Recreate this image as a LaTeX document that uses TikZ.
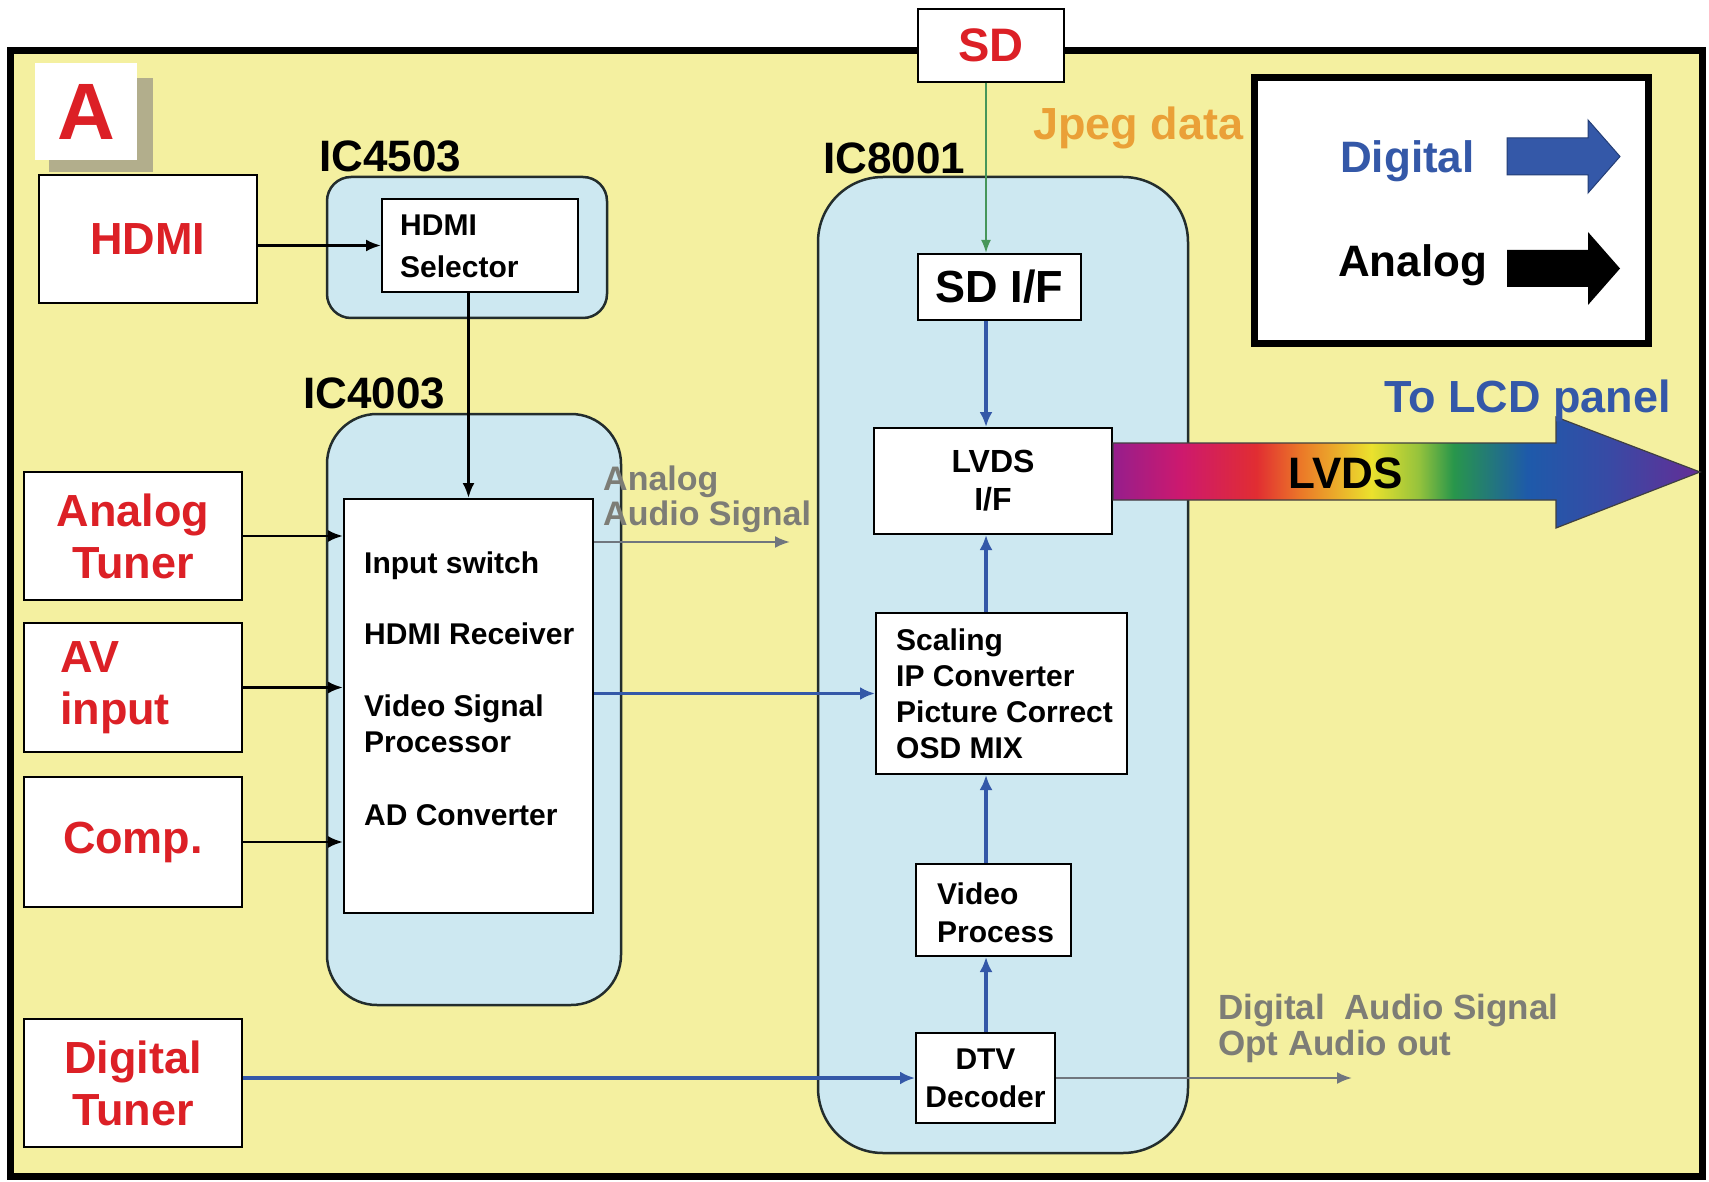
\documentclass[tikz,border=0pt]{standalone}
\usepackage{fontspec}
\setmainfont{Liberation Sans}
\usetikzlibrary{arrows.meta}

\definecolor{bgyellow}{RGB}{244,240,160}
\definecolor{icblue}{RGB}{205,232,241}
\definecolor{chipline}{RGB}{35,45,45}
\definecolor{redtxt}{RGB}{220,32,38}
\definecolor{digblue}{RGB}{52,88,168}
\definecolor{txtgrey}{RGB}{125,125,118}
\definecolor{arrowgrey}{RGB}{112,118,126}
\definecolor{jpegorange}{RGB}{234,160,55}
\definecolor{jpggreen}{RGB}{70,150,90}
\definecolor{shadowgrey}{RGB}{178,174,140}
% rainbow for the LVDS arrow
\definecolor{lv1}{RGB}{150,30,140}
\definecolor{lv2}{RGB}{205,25,110}
\definecolor{lv3}{RGB}{225,45,50}
\definecolor{lv4}{RGB}{235,120,40}
\definecolor{lv5}{RGB}{235,225,45}
\definecolor{lv6}{RGB}{150,195,60}
\definecolor{lv7}{RGB}{40,150,75}
\definecolor{lv8}{RGB}{30,90,170}
\definecolor{lv9}{RGB}{55,75,165}
\definecolor{lv10}{RGB}{100,45,150}
\pgfdeclarehorizontalshading{lvdsshade}{100bp}{color(0bp)=(lv1); color(25bp)=(lv1);
  color(30.8bp)=(lv2); color(37.2bp)=(lv3); color(41bp)=(lv4); color(47bp)=(lv5);
  color(51bp)=(lv6); color(54bp)=(lv7); color(60.3bp)=(lv8); color(67bp)=(lv9);
  color(75bp)=(lv10); color(100bp)=(lv10)}

\begin{document}
\begin{tikzpicture}[x=1pt, y=-1pt,
    every node/.style={font=\bfseries, inner sep=0pt},
    inbox/.style={draw=black, line width=2pt, fill=white, minimum width=218pt,
      minimum height=128pt, text=redtxt, align=center,
      font=\bfseries\fontsize{45}{52}\selectfont},
    chip/.style={draw=chipline, line width=2.5pt, fill=icblue},
    blk/.style={draw=black, line width=2pt, fill=white},
    chiplabel/.style={anchor=base west, font=\bfseries\fontsize{44}{50}\selectfont},
    blktext/.style={anchor=north west, align=left, font=\bfseries\fontsize{30}{36}\selectfont},
    anaarr/.style={-{Latex[length=15pt,width=12pt]}, line width=2.6pt, draw=black},
    digarr/.style={-{Latex[length=15pt,width=13pt]}, line width=3.4pt, draw=digblue},
    audarr/.style={-{Latex[length=15pt,width=12pt]}, line width=2.4pt, draw=arrowgrey},
    jpgarr/.style={-{Latex[length=13pt,width=10pt]}, line width=2pt, draw=jpggreen},
  ]

    \useasboundingbox (0,0) rectangle (1709,1182);
    \fill[white] (0,0) rectangle (1709,1182);

    % Board
    \draw[line width=7pt, fill=bgyellow] (10,51) rectangle (1702,1176);

    % SD card on top
    \node[blk, minimum width=146pt, minimum height=73pt, text=redtxt,
      font=\bfseries\fontsize{47}{52}\selectfont] (sd) at (991,45.5) {SD};

    % Board letter
    \fill[shadowgrey] (49,78) rectangle (153,172);
    \node[fill=white, minimum width=102pt, minimum height=97pt, text=redtxt,
      font=\bfseries\fontsize{80}{90}\selectfont] (abox) at (86,111.5) {A};

    % Legend
    \draw[line width=7pt, fill=white] (1254,78) rectangle (1648,344);
    \node[anchor=base west, text=digblue, font=\bfseries\fontsize{44}{50}\selectfont]
      (tdig) at (1340,173) {Digital};
    \node[anchor=base west, font=\bfseries\fontsize{44}{50}\selectfont]
      (tana) at (1338,277) {Analog};
    \filldraw[fill=digblue, draw=digblue!70!black, line width=1pt]
      (1507,138) -- (1588,138) -- (1588,120) -- (1620,156.5) -- (1588,193)
      -- (1588,175) -- (1507,175) -- cycle;
    \fill (1507,250) -- (1588,250) -- (1588,232) -- (1620,268.5) -- (1588,305)
      -- (1588,287) -- (1507,287) -- cycle;

    % Inputs
    \node[inbox] (hdmi) at (148,239) {HDMI};
    \node[inbox] (atuner) at (133,536) {Analog\\Tuner};
    \node[inbox, minimum height=129pt, align=left, text width=146pt] (avin) at (133,687.5)
      {AV\\input};
    \node[inbox, minimum height=130pt] (comp) at (133,842) {Comp.};
    \node[inbox] (dtuner) at (133,1083) {Digital\\Tuner};

    % IC4503
    \node[chip, rounded corners=24pt, minimum width=280pt, minimum height=141pt]
      (ic4503) at (467,247.5) {};
    \node[chiplabel] (lic4503) at (319,172) {IC4503};
    \node[blk, minimum width=196pt, minimum height=93pt] (sel) at (480,245.5) {};
    \node[blktext, font=\bfseries\fontsize{30}{42}\selectfont] (tsel) at (400,215)
      {HDMI\\Selector};

    % IC4003
    \node[chip, rounded corners=50pt, minimum width=294pt, minimum height=591pt]
      (ic4003) at (474,709.5) {};
    \node[chiplabel] (lic4003) at (303,409) {IC4003};
    \node[blk, minimum width=249pt, minimum height=414pt] (vsp) at (468.5,706) {};
    \node[blktext] (tvsp) at (364,552)
      {Input switch\\[35pt]HDMI Receiver\\[36pt]Video Signal\\Processor\\[37pt]AD Converter};

    % IC8001
    \node[chip, rounded corners=65pt, minimum width=370pt, minimum height=976pt]
      (ic8001) at (1003,665) {};
    \node[chiplabel] (lic8001) at (823,174) {IC8001};
    \node[blk, minimum width=163pt, minimum height=66pt,
      font=\bfseries\fontsize{45}{50}\selectfont] (sdif) at (999.5,287) {SD I/F};
    \node[blk, minimum width=238pt, minimum height=106pt, align=center,
      font=\bfseries\fontsize{32}{38}\selectfont] (lvds) at (993,481) {LVDS\\I/F};
    \node[blk, minimum width=251pt, minimum height=161pt] (scal) at (1001.5,693.5) {};
    \node[blktext] (tscal) at (896,629)
      {Scaling\\IP Converter\\Picture Correct\\OSD MIX};
    \node[blk, minimum width=155pt, minimum height=92pt] (vproc) at (993.5,910) {};
    \node[blktext, font=\bfseries\fontsize{30}{38}\selectfont] (tvproc) at (937,883)
      {Video\\Process};
    \node[blk, minimum width=139pt, minimum height=90pt, align=center,
      font=\bfseries\fontsize{30}{38}\selectfont] (dtv) at (985.5,1078) {DTV\\Decoder};

    % Analog paths
    \draw[anaarr] (hdmi.east |- sel.west) -- (sel.west);
    \draw[anaarr] (sel.south -| vsp.north) -- (vsp.north);
    \draw[anaarr] (atuner.east) -- (atuner.east -| vsp.west);
    \draw[anaarr] (avin.east) -- (avin.east -| vsp.west);
    \draw[anaarr] (comp.east) -- (comp.east -| vsp.west);

    % Digital paths
    \coordinate (col) at (986,0);
    \draw[jpgarr] (col |- sd.south) -- (col |- sdif.north);
    \draw[digarr] (col |- sdif.south) -- (col |- lvds.north);
    \draw[digarr] (col |- scal.north) -- (col |- lvds.south);
    \draw[digarr] (col |- vproc.north) -- (col |- scal.south);
    \draw[digarr] (col |- dtv.north) -- (col |- vproc.south);
    \draw[digarr] (vsp.east |- scal.west) -- (scal.west);
    \draw[digarr] (dtuner.east |- dtv.west) -- (dtv.west);

    % Audio out
    \coordinate (aaend) at (790,542);
    \draw[audarr] (vsp.east |- aaend) -- (aaend);
    \node[anchor=north west, align=left, text=txtgrey,
      font=\bfseries\fontsize{34}{35}\selectfont] (taaudio) at (603,466)
      {Analog\\Audio Signal};
    \coordinate (daend) at (1352,1078);
    \draw[audarr] (dtv.east) -- (daend);
    \node[anchor=north west, align=left, text=txtgrey,
      font=\bfseries\fontsize{35}{36}\selectfont] (tdaudio) at (1218,994)
      {Digital~ Audio Signal\\Opt Audio out};

    % Jpeg label
    \node[anchor=base west, text=jpegorange, font=\bfseries\fontsize{45}{50}\selectfont]
      (tjpeg) at (1033,140) {Jpeg data};

    % LVDS out to panel
    \shade[shading=lvdsshade, draw=black!75, line width=1.2pt]
      (lvds.east |- 0,443) -- (1556,443) -- (1556,417) -- (1700,472)
      -- (1556,528) -- (1556,500) -- (lvds.east |- 0,500) -- cycle;
    \node[font=\bfseries\fontsize{44}{50}\selectfont] (tlvds) at (1346,473) {LVDS};
    \node[anchor=base west, text=digblue, font=\bfseries\fontsize{45}{50}\selectfont]
      (ttolcd) at (1384,412) {To LCD panel};

\end{tikzpicture}
\end{document}
